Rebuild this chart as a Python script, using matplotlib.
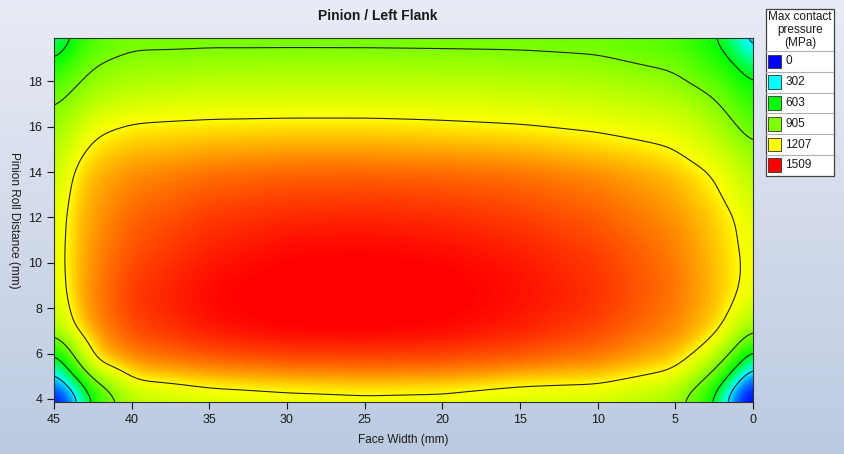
import numpy as np
import matplotlib
matplotlib.use('Agg')
import matplotlib.pyplot as plt
import matplotlib.tri as mtri
from matplotlib.colors import LinearSegmentedColormap
from matplotlib.patches import Rectangle

plt.rcParams['font.family'] = ['Liberation Sans', 'DejaVu Sans']

# grid (MPa)
face_width = [45, 44, 42.5, 40, 35, 30, 25, 20, 15, 10, 5, 2.5, 1, 0]
roll_dist = [3.88, 4.5, 5.5, 7, 8.5, 10, 12, 14, 16, 17.5, 19, 19.92]
pressure = [
    [0, 0, 640, 1000, 1095, 1125, 1140, 1135, 1100, 1080, 960, 580, 0, 0],
    [0, 200, 800, 1150, 1210, 1240, 1255, 1245, 1190, 1180, 1070, 730, 100, 0],
    [320, 780, 1230, 1330, 1380, 1400, 1405, 1400, 1380, 1345, 1250, 990, 690, 250],
    [960, 1207, 1330, 1420, 1480, 1505, 1510, 1500, 1470, 1425, 1345, 1260, 1080, 905],
    [1080, 1260, 1355, 1440, 1500, 1530, 1535, 1520, 1490, 1450, 1370, 1290, 1215, 1130],
    [1110, 1260, 1345, 1420, 1480, 1510, 1515, 1505, 1480, 1440, 1365, 1285, 1225, 1160],
    [1100, 1250, 1325, 1390, 1440, 1460, 1465, 1455, 1435, 1400, 1335, 1265, 1210, 1120],
    [1040, 1210, 1290, 1340, 1375, 1390, 1390, 1385, 1370, 1340, 1280, 1205, 1110, 1000],
    [950, 1050, 1180, 1228, 1240, 1245, 1245, 1235, 1220, 1190, 1140, 1030, 910, 820],
    [840, 910, 1000, 1060, 1095, 1100, 1100, 1095, 1080, 1055, 995, 890, 760, 640],
    [560, 720, 880, 930, 945, 948, 948, 945, 940, 920, 850, 700, 560, 430],
    [400, 560, 780, 860, 858, 856, 855, 852, 848, 835, 770, 610, 420, 90],
]

legend_values = [0, 302, 603, 905, 1207, 1509]
legend_colors = ['#0000ff', '#00ffff', '#00ff00', '#80ff00', '#ffff00', '#ff0000']
contour_levels = [302, 603, 905, 1207]

fig = plt.figure(figsize=(8.45, 4.54), dpi=100)

# background gradient
bg = fig.add_axes([0, 0, 1, 1], zorder=-10)
grad = np.linspace(0, 1, 256)[:, None]
top = np.array([0.915, 0.922, 0.962])
bot = np.array([0.735, 0.792, 0.880])
bg.imshow(top + (bot - top) * grad[..., None], aspect='auto', extent=[0, 1, 0, 1])
bg.set_axis_off()

ax = fig.add_axes([54 / 845, 1 - 401.7 / 454, 699 / 845, 364 / 454])

cmap = LinearSegmentedColormap.from_list(
    'mcp', [(v / legend_values[-1], c) for v, c in zip(legend_values, legend_colors)])

# surface through the read values, sampled on a fine regular grid
X, Y = np.meshgrid(face_width, roll_dist)
Z = np.array(pressure, dtype=float)
nr, nc = Z.shape
tris = []
for i in range(nr - 1):
    for j in range(nc - 1):
        a = i * nc + j
        tris.append([a, a + 1, a + nc + 1])
        tris.append([a, a + nc + 1, a + nc])
triang = mtri.Triangulation(X.ravel(), Y.ravel(), tris)
interp = mtri.LinearTriInterpolator(triang, Z.ravel())

fx = np.linspace(45 - 1e-6, 1e-6, 451)
fy = np.linspace(3.88 + 1e-6, 19.92 - 1e-6, 321)
FX, FY = np.meshgrid(fx, fy)
zf = np.ma.filled(interp(FX, FY), np.nan)


def box(a, r, axis):
    pad = [(0, 0), (0, 0)]
    pad[axis] = (r + 1, r)
    p = np.pad(a, pad, mode='edge')
    c = np.cumsum(p, axis=axis)
    n = a.shape[axis]
    hi = np.take(c, np.arange(2 * r + 1, 2 * r + 1 + n), axis=axis)
    lo = np.take(c, np.arange(0, n), axis=axis)
    return (hi - lo) / (2 * r + 1)


# soften the facets
for _ in range(3):
    zf = box(zf, 6, 1)
    zf = box(zf, 9, 0)

ax.imshow(zf, extent=[45, 0, 3.88, 19.92], origin='lower', aspect='auto',
          cmap=cmap, vmin=0, vmax=legend_values[-1], interpolation='bilinear')
ax.contour(FX, FY, zf, levels=contour_levels, colors='#202020', linewidths=0.8)

ax.set_xlim(45, 0)
ax.set_ylim(3.88, 19.92)
ax.set_xticks(np.arange(45, -1, -5))
ax.set_yticks(np.arange(4, 19, 2))
ax.tick_params(direction='out', length=5, width=0.8, labelsize=9, colors='#1a1a1a')
for s in ax.spines.values():
    s.set_linewidth(0.8)
    s.set_color('#303030')

fig.text(378 / 845, 1 - 16 / 454, 'Pinion / Left Flank', ha='center', va='center',
         fontsize=10, fontweight='bold', color='#1a1a1a')
ax.set_xlabel('Face Width (mm)', fontsize=8.5, labelpad=6, color='#1a1a1a')
fig.text(14 / 845, 1 - 220 / 454, 'Pinion Roll Distance (mm)', rotation=-90,
         ha='center', va='center', fontsize=8.5, color='#1a1a1a')

# legend box
lg = fig.add_axes([766 / 845, 1 - 175.7 / 454, 68 / 845, 166.4 / 454])
lg.set_xlim(0, 68)
lg.set_ylim(166.4, 0)
lg.set_axis_off()
lg.add_patch(Rectangle((0, 0), 68, 166.4, facecolor='white', edgecolor='#404040',
                       lw=0.9, clip_on=False))
lg.text(34, 21, 'Max contact\npressure\n(MPa)', ha='center', va='center',
        fontsize=8.5, linespacing=1.12, color='#1a1a1a')
head = 41.7
row_h = (166.4 - head) / len(legend_values)
for k, (v, c) in enumerate(zip(legend_values, legend_colors)):
    y0 = head + k * row_h
    lg.plot([0, 68], [y0, y0], color='#b0b0b0', lw=0.8)
    lg.add_patch(Rectangle((2.5, y0 + 3.5), 13, row_h - 7, facecolor=c,
                           edgecolor='#303030', lw=0.6))
    lg.text(19.5, y0 + row_h / 2, str(v), ha='left', va='center', fontsize=8.5,
            color='#1a1a1a')

fig.savefig('out.png', dpi=100)
